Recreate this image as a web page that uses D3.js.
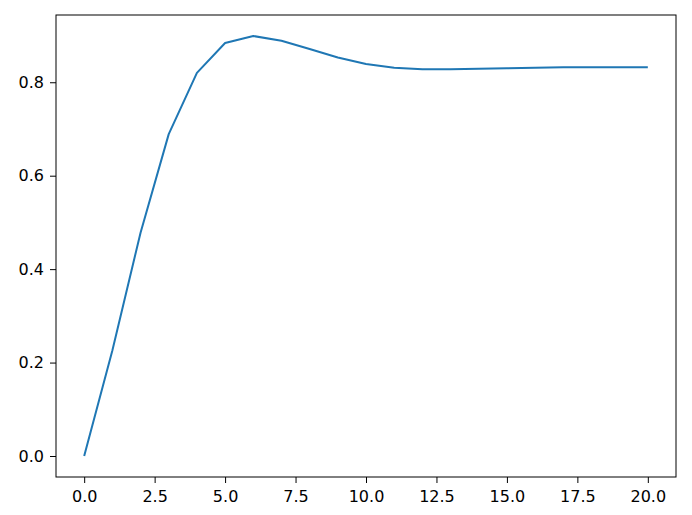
<!DOCTYPE html>
<html>
<head>
<meta charset="utf-8">
<script src="https://cdn.jsdelivr.net/npm/d3@7"></script>
<style>
  body { margin: 0; background: #fff; }
  svg { display: block; }
</style>
</head>
<body>
<div id="chart"></div>
<script>
// Step response samples
const timeSteps = d3.range(0, 21);
const responseValues = [0, 0.226, 0.478, 0.689, 0.820, 0.884, 0.899, 0.889, 0.871, 0.853,
  0.839, 0.831, 0.828, 0.828, 0.829, 0.830, 0.831, 0.832, 0.832, 0.832, 0.832];
const xTicks = [0, 2.5, 5, 7.5, 10, 12.5, 15, 17.5, 20];
const yTicks = [0, 0.2, 0.4, 0.6, 0.8];

const width = 692, height = 515;
const margin = { top: 15, right: 16, bottom: 38, left: 56 };
const innerW = width - margin.left - margin.right;
const innerH = height - margin.top - margin.bottom;

const svg = d3.select('#chart').append('svg')
  .attr('width', width)
  .attr('height', height);

const g = svg.append('g')
  .attr('transform', `translate(${margin.left},${margin.top})`);

// matplotlib-like 5% margins
const xScale = d3.scaleLinear().domain([-1, 21]).range([0, innerW]);
const yMax = d3.max(responseValues), yMin = 0;
const pad = (yMax - yMin) * 0.05;
const yScale = d3.scaleLinear().domain([yMin - pad, yMax + pad]).range([innerH, 0]);

const line = d3.line()
  .x((d, i) => xScale(timeSteps[i]))
  .y(d => yScale(d));

g.append('path')
  .datum(responseValues)
  .attr('fill', 'none')
  .attr('stroke', '#1f77b4')
  .attr('stroke-width', 2)
  .attr('stroke-linejoin', 'round')
  .attr('d', line);

const styleAxis = a => {
  a.select('.domain').remove();
  a.selectAll('line').attr('stroke', '#000');
  a.attr('font-family', '"DejaVu Sans", sans-serif').attr('font-size', 16);
  a.selectAll('text').attr('fill', '#000');
};

const xAxis = d3.axisBottom(xScale)
  .tickValues(xTicks)
  .tickSize(6)
  .tickPadding(8)
  .tickFormat(d3.format('.1f'));

g.append('g')
  .attr('transform', `translate(0,${innerH})`)
  .call(xAxis)
  .call(styleAxis);

const yAxis = d3.axisLeft(yScale)
  .tickValues(yTicks)
  .tickSize(6)
  .tickPadding(6)
  .tickFormat(d3.format('.1f'));

g.append('g')
  .call(yAxis)
  .call(styleAxis);

// axes frame
g.append('rect')
  .attr('x', 0).attr('y', 0)
  .attr('width', innerW).attr('height', innerH)
  .attr('fill', 'none')
  .attr('stroke', '#000')
  .attr('stroke-width', 1);
</script>
</body>
</html>
